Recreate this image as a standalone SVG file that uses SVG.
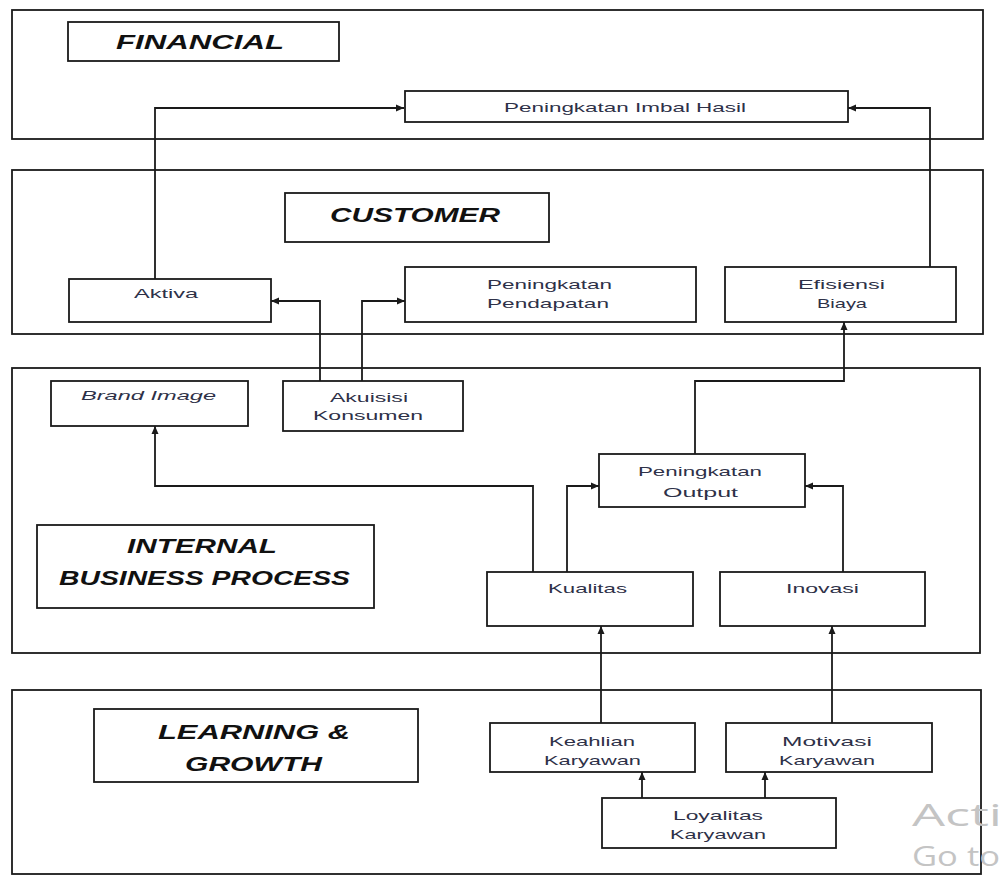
<svg xmlns="http://www.w3.org/2000/svg" width="1000" height="890" viewBox="0 0 1000 890">
<style>
.panel{fill:#fff;stroke:#1a1a1a;stroke-width:1.8}
.box{fill:#fff;stroke:#1a1a1a;stroke-width:1.8}
.hdr{font-family:"Liberation Sans",Arial,sans-serif;font-weight:bold;font-style:italic;font-size:20px;fill:#111}
.lbl{font-family:"Liberation Sans",Arial,sans-serif;font-size:13.5px;fill:#2e3148}
.it{font-style:italic}
.con{fill:none;stroke:#1a1a1a;stroke-width:1.8}
.wm{font-family:"Open Sans","DejaVu Sans",sans-serif;fill:#c4c4c4}
</style>
<defs>
<marker id="ah" markerUnits="userSpaceOnUse" markerWidth="10" markerHeight="10" refX="9" refY="5" orient="auto">
<path d="M1,1.5 L9,5 L1,8.5 Z" fill="#1a1a1a"/>
</marker>
</defs>
<rect width="1000" height="890" fill="#fff"/>
<g id="panel-financial"><rect class="panel" x="12" y="10" width="971" height="129"/></g>
<g id="panel-customer"><rect class="panel" x="12" y="170" width="971" height="164"/></g>
<g id="panel-internal"><rect class="panel" x="12" y="368" width="968" height="285"/></g>
<g id="panel-learning"><rect class="panel" x="12" y="690" width="969" height="184"/></g>

<g id="watermark">
<text class="wm" x="912" y="826" font-size="31" textLength="90" lengthAdjust="spacingAndGlyphs">Acti</text>
<text class="wm" x="912" y="866" font-size="27" textLength="88" lengthAdjust="spacingAndGlyphs">Go to</text>
</g>

<g id="connectors">
<path class="con" marker-end="url(#ah)" d="M155,279 V108 H404"/>
<path class="con" marker-end="url(#ah)" d="M930,267 V108 H848"/>
<path class="con" marker-end="url(#ah)" d="M320,381 V301 H271"/>
<path class="con" marker-end="url(#ah)" d="M362,381 V301 H405"/>
<path class="con" marker-end="url(#ah)" d="M695,454 V381 H844 V322"/>
<path class="con" marker-end="url(#ah)" d="M533,572 V486 H155 V426"/>
<path class="con" marker-end="url(#ah)" d="M567,572 V486 H599"/>
<path class="con" marker-end="url(#ah)" d="M843,572 V486 H805"/>
<path class="con" marker-end="url(#ah)" d="M601,723 V626"/>
<path class="con" marker-end="url(#ah)" d="M832,723 V626"/>
<path class="con" marker-end="url(#ah)" d="M642,798 V772"/>
<path class="con" marker-end="url(#ah)" d="M765,798 V772"/>
</g>

<g id="hdr-financial"><rect class="box" x="68" y="22" width="271" height="39"/>
<text class="hdr" x="116" y="49" textLength="168" lengthAdjust="spacingAndGlyphs">FINANCIAL</text></g>
<g id="imbal-hasil"><rect class="box" x="405" y="91" width="443" height="31"/>
<text class="lbl" x="504" y="112" textLength="242" lengthAdjust="spacingAndGlyphs">Peningkatan Imbal Hasil</text></g>

<g id="hdr-customer"><rect class="box" x="285" y="193" width="264" height="49"/>
<text class="hdr" x="330" y="222" textLength="170" lengthAdjust="spacingAndGlyphs">CUSTOMER</text></g>
<g id="aktiva"><rect class="box" x="69" y="279" width="202" height="43"/>
<text class="lbl" x="134" y="298" textLength="64" lengthAdjust="spacingAndGlyphs">Aktiva</text></g>
<g id="pendapatan"><rect class="box" x="405" y="267" width="291" height="55"/>
<text class="lbl" x="487" y="289" textLength="125" lengthAdjust="spacingAndGlyphs">Peningkatan</text>
<text class="lbl" x="487" y="308" textLength="122" lengthAdjust="spacingAndGlyphs">Pendapatan</text></g>
<g id="efisiensi"><rect class="box" x="725" y="267" width="231" height="55"/>
<text class="lbl" x="798" y="289" textLength="87" lengthAdjust="spacingAndGlyphs">Efisiensi</text>
<text class="lbl" x="817" y="308" textLength="50" lengthAdjust="spacingAndGlyphs">Biaya</text></g>

<g id="brand-image"><rect class="box" x="51" y="381" width="197" height="45"/>
<text class="lbl it" x="81" y="400" textLength="135" lengthAdjust="spacingAndGlyphs">Brand Image</text></g>
<g id="akuisisi"><rect class="box" x="283" y="381" width="180" height="50"/>
<text class="lbl" x="330" y="402" textLength="78" lengthAdjust="spacingAndGlyphs">Akuisisi</text>
<text class="lbl" x="313" y="420" textLength="110" lengthAdjust="spacingAndGlyphs">Konsumen</text></g>
<g id="hdr-internal"><rect class="box" x="37" y="525" width="337" height="83"/>
<text class="hdr" x="127" y="553" textLength="150" lengthAdjust="spacingAndGlyphs">INTERNAL</text>
<text class="hdr" x="59" y="585" textLength="291" lengthAdjust="spacingAndGlyphs">BUSINESS PROCESS</text></g>
<g id="output"><rect class="box" x="599" y="454" width="206" height="53"/>
<text class="lbl" x="638" y="476" textLength="124" lengthAdjust="spacingAndGlyphs">Peningkatan</text>
<text class="lbl" x="663" y="497" textLength="75" lengthAdjust="spacingAndGlyphs">Output</text></g>
<g id="kualitas"><rect class="box" x="487" y="572" width="206" height="54"/>
<text class="lbl" x="548" y="593" textLength="79" lengthAdjust="spacingAndGlyphs">Kualitas</text></g>
<g id="inovasi"><rect class="box" x="720" y="572" width="205" height="54"/>
<text class="lbl" x="786" y="593" textLength="73" lengthAdjust="spacingAndGlyphs">Inovasi</text></g>

<g id="hdr-learning"><rect class="box" x="94" y="709" width="324" height="73"/>
<text class="hdr" x="158" y="739" textLength="192" lengthAdjust="spacingAndGlyphs">LEARNING &amp;</text>
<text class="hdr" x="185" y="771" textLength="137" lengthAdjust="spacingAndGlyphs">GROWTH</text></g>
<g id="keahlian"><rect class="box" x="490" y="723" width="205" height="49"/>
<text class="lbl" x="549" y="746" textLength="86" lengthAdjust="spacingAndGlyphs">Keahlian</text>
<text class="lbl" x="544" y="765" textLength="97" lengthAdjust="spacingAndGlyphs">Karyawan</text></g>
<g id="motivasi"><rect class="box" x="726" y="723" width="206" height="49"/>
<text class="lbl" x="782" y="746" textLength="90" lengthAdjust="spacingAndGlyphs">Motivasi</text>
<text class="lbl" x="779" y="765" textLength="96" lengthAdjust="spacingAndGlyphs">Karyawan</text></g>
<g id="loyalitas"><rect class="box" x="602" y="798" width="234" height="50"/>
<text class="lbl" x="673" y="820" textLength="90" lengthAdjust="spacingAndGlyphs">Loyalitas</text>
<text class="lbl" x="670" y="839" textLength="96" lengthAdjust="spacingAndGlyphs">Karyawan</text></g>
</svg>
